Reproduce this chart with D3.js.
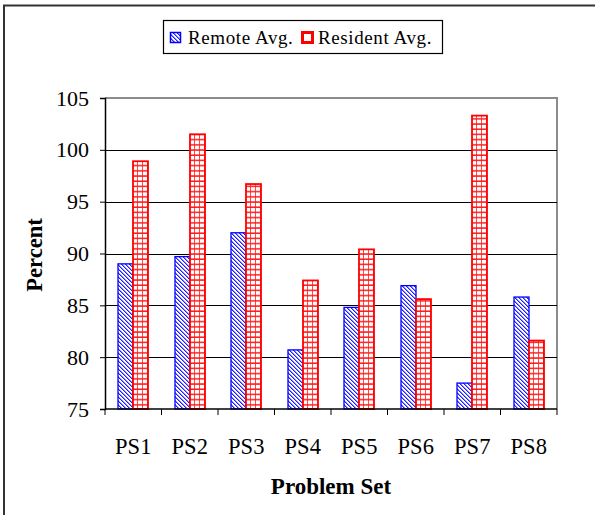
<!DOCTYPE html>
<html>
<head>
<meta charset="utf-8">
<script src="https://cdn.jsdelivr.net/npm/d3@7"></script>
<style>
  html, body { margin: 0; padding: 0; background: #fff; }
  svg { display: block; }
  text { font-family: "Liberation Serif", "Times New Roman", serif; fill: #000; }
</style>
</head>
<body>
<svg id="chart" width="595" height="515"></svg>
<script>
// Average scores per problem set
const categories = ["PS1", "PS2", "PS3", "PS4", "PS5", "PS6", "PS7", "PS8"];
const seriesNames = ["Remote Avg.", "Resident Avg."];
const remoteAvg = [89.0, 89.7, 92.0, 80.7, 84.8, 86.9, 77.5, 85.8];
const residentAvg = [98.9, 101.5, 96.7, 87.4, 90.4, 85.6, 103.3, 81.6];
const yTicks = [75, 80, 85, 90, 95, 100, 105];

const svg = d3.select("#chart");
const W = 595, H = 515;
const plot = { left: 105, right: 557, top: 98, bottom: 409 };

// Patterns: blue diagonal hatch (pixel staircase) and red grid
const defs = svg.append("defs");
const hatch = defs.append("pattern")
  .attr("id", "hatchBlue").attr("patternUnits", "userSpaceOnUse")
  .attr("width", 4).attr("height", 4);
hatch.append("rect").attr("width", 4).attr("height", 4).attr("fill", "#fff");
[0, 1, 2, 3].forEach(k => {
  hatch.append("rect").attr("x", k).attr("y", k).attr("width", 1).attr("height", 1)
    .attr("fill", "#2020ff").attr("shape-rendering", "crispEdges");
  hatch.append("rect").attr("x", (k + 1) % 4).attr("y", k).attr("width", 1).attr("height", 1)
    .attr("fill", "#8c8cff").attr("shape-rendering", "crispEdges");
});

const vgrid = defs.append("pattern")
  .attr("id", "gridV").attr("patternUnits", "objectBoundingBox")
  .attr("patternContentUnits", "objectBoundingBox")
  .attr("width", 1 / 3).attr("height", 1);
vgrid.append("rect").attr("x", 0.28).attr("width", 0.09).attr("height", 1).attr("fill", "#ff1a1a");

const hgrid = defs.append("pattern")
  .attr("id", "gridH").attr("patternUnits", "userSpaceOnUse")
  .attr("width", 10).attr("height", 5.2);
hgrid.append("rect").attr("y", 3.7).attr("width", 10).attr("height", 1.5).attr("fill", "#ff1a1a");

// Outer frame
svg.append("rect")
  .attr("x", 4).attr("y", 5.5).attr("width", W + 10).attr("height", H + 10)
  .attr("fill", "#fff").attr("stroke", "#333").attr("stroke-width", 2);

// Scales
const x0 = d3.scaleBand().domain(categories).range([plot.left, plot.right]).paddingInner(0).paddingOuter(0);
const bw = x0.bandwidth();
const x1 = d3.scaleBand().domain(seriesNames).range([0, bw]).paddingInner(0).paddingOuter(0.766).round(true);
const y = d3.scaleLinear().domain([75, 105]).range([plot.bottom, plot.top]);

// Plot area border (top and right)
svg.append("path")
  .attr("d", `M${plot.left},${plot.top} H${plot.right} V${plot.bottom}`)
  .attr("fill", "none").attr("stroke", "#8c8c8c").attr("stroke-width", 2);

// Gridlines
svg.append("g").selectAll("line")
  .data(yTicks.filter(t => t > 75 && t < 105))
  .join("line")
  .attr("x1", plot.left).attr("x2", plot.right)
  .attr("y1", d => Math.round(y(d)) + 0.5).attr("y2", d => Math.round(y(d)) + 0.5)
  .attr("stroke", "#000").attr("stroke-width", 1);

// Bars
const rows = categories.map((c, i) => ({ cat: c, vals: [remoteAvg[i], residentAvg[i]] }));
const groups = svg.append("g").selectAll("g")
  .data(rows).join("g")
  .attr("transform", d => `translate(${Math.round(x0(d.cat))},0)`);

groups.each(function (d) {
  const g = d3.select(this);
  const bx = x1(seriesNames[0]);
  const rx = x1(seriesNames[1]);
  const w = x1.bandwidth();
  // Remote: hatched blue
  g.append("rect")
    .attr("x", bx).attr("y", y(d.vals[0]))
    .attr("width", w).attr("height", y(75) - y(d.vals[0]))
    .attr("fill", "url(#hatchBlue)").attr("stroke", "#0000ff").attr("stroke-width", 1.3);
  // Resident: red grid
  const ry = y(d.vals[1]), rh = y(75) - y(d.vals[1]);
  g.append("rect").attr("x", rx).attr("y", ry).attr("width", w).attr("height", rh).attr("fill", "#fff");
  g.append("rect").attr("x", rx).attr("y", ry).attr("width", w).attr("height", rh).attr("fill", "url(#gridV)");
  g.append("rect").attr("x", rx).attr("y", ry).attr("width", w).attr("height", rh).attr("fill", "url(#gridH)");
  g.append("rect").attr("x", rx).attr("y", ry).attr("width", w).attr("height", rh)
    .attr("fill", "none").attr("stroke", "#ff0000").attr("stroke-width", 1.8);
});

// Y axis
const yAxis = d3.axisLeft(y).tickValues(yTicks).tickSize(5).tickPadding(11);
const gy = svg.append("g").attr("transform", `translate(${plot.left},0)`).call(yAxis);
gy.select(".domain").attr("stroke", "#000").attr("stroke-width", 1.5);
gy.selectAll(".tick line").attr("stroke", "#000");
gy.selectAll(".tick text")
  .attr("font-family", "Liberation Serif, serif").attr("font-size", 22).attr("fill", "#000");

// X axis with tick marks at category boundaries
const gx = svg.append("g").attr("transform", `translate(0,${plot.bottom})`);
gx.append("line").attr("x1", plot.left).attr("x2", plot.right)
  .attr("stroke", "#000").attr("stroke-width", 1.5);
const boundaries = categories.map(c => x0(c)).concat([plot.right]);
gx.selectAll("line.tk").data(boundaries).join("line").attr("class", "tk")
  .attr("x1", d => d).attr("x2", d => d).attr("y1", 0).attr("y2", 6)
  .attr("stroke", "#000");
gx.selectAll("text").data(categories).join("text")
  .attr("x", d => x0(d) + bw / 2).attr("y", 45)
  .attr("text-anchor", "middle").attr("font-size", 22.5)
  .text(d => d);

// Axis titles
svg.append("text")
  .attr("x", 331).attr("y", 494).attr("text-anchor", "middle")
  .attr("font-size", 23).attr("font-weight", "bold")
  .text("Problem Set");
svg.append("text")
  .attr("transform", "translate(42,255) rotate(-90)")
  .attr("text-anchor", "middle")
  .attr("font-size", 22.5).attr("font-weight", "bold")
  .text("Percent");

// Legend
const lg = svg.append("g");
lg.append("rect").attr("x", 163.5).attr("y", 20.5).attr("width", 279).attr("height", 33)
  .attr("fill", "#fff").attr("stroke", "#000").attr("stroke-width", 1.2);
const legendItems = [
  { name: seriesNames[0], sx: 170, tx: 188, fill: "url(#hatchBlue)", stroke: "#0000ff" },
  { name: seriesNames[1], sx: 302, tx: 318, fill: "#fff", stroke: "#ff0000" }
];
legendItems.forEach(it => {
  lg.append("rect").attr("x", it.sx + 0.5).attr("y", 32.5).attr("width", 10).attr("height", 10)
    .attr("fill", it.fill).attr("stroke", it.stroke).attr("stroke-width", it.stroke === "#ff0000" ? 3 : 1.5);
  lg.append("text").attr("x", it.tx).attr("y", 44)
    .attr("font-size", 19).attr("letter-spacing", 0.6)
    .text(it.name);
});
</script>
</body>
</html>
